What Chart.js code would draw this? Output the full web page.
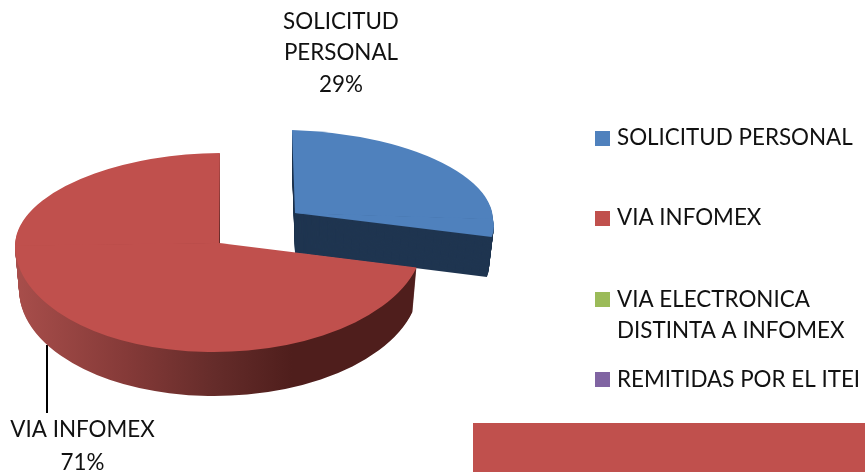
<!DOCTYPE html>
<html>
<head>
<meta charset="utf-8">
<style>
html,body{margin:0;padding:0;background:#fff;overflow:hidden}
canvas{display:block}
</style>
<script src="https://cdn.jsdelivr.net/npm/chart.js@4/dist/chart.umd.min.js"></script>
</head>
<body>
<canvas id="c" width="865" height="472"></canvas>
<script>
const categories = ["SOLICITUD PERSONAL", "VIA INFOMEX", "VIA ELECTRONICA DISTINTA A INFOMEX", "REMITIDAS POR EL ITEI"];
const values = [29, 71, 0, 0];
const colors = ["#4F81BD", "#C0504D", "#9BBB59", "#8064A2"];
const legendLines = [["SOLICITUD PERSONAL"], ["VIA INFOMEX"], ["VIA ELECTRONICA", "DISTINTA A INFOMEX"], ["REMITIDAS POR EL ITEI"]];
const sliceLabels = [["SOLICITUD", "PERSONAL", "29%"], ["VIA INFOMEX", "71%"]];

const FONT = '22.4px Lato, "Open Sans", sans-serif';
const TEXT = '#111111';
const R = 200;

// Projection of each slice (a tilted disc with some perspective)
const projection = [
  {ax: 295, ay: 213, rx: 198, up: 83, down: 73, kUp: 0.036, kDown: 0.27, m: 0.03, depth: 40, shrink: 0.975},
  {ax: 219, ay: 243, rx: 204, up: 90, down: 109, kUp: -0.01, kDown: 0, m: -0.013, depth: 44, shrink: 0.98}
];

function paintHalf(ctx, arc, p, dy, sx, upper, fill) {
  const cx = arc.x, cy = arc.y;
  const sy = (upper ? p.up : p.down) / R;
  const k = upper ? p.kUp : p.kDown;
  ctx.save();
  ctx.translate(p.ax, p.ay + dy);
  ctx.transform(1, p.m, 0, 1, 0, 0);
  ctx.beginPath();
  if (upper) ctx.rect(-1000, -1000, 2000, 1000.5); else ctx.rect(-1000, 0, 2000, 1000);
  ctx.clip();
  ctx.transform(sx, 0, k * sy, sy, -sx * cx - k * sy * cy, -sy * cy);
  const old = arc.options.backgroundColor;
  arc.options.backgroundColor = fill;
  arc.draw(ctx);
  arc.options.backgroundColor = old;
  ctx.restore();
}

function sideFill(ctx, arc, i, p, sx) {
  if (i === 0) return '#1F3550';
  const toChart = X => arc.x + (X - p.ax) / sx;
  const g = ctx.createLinearGradient(toChart(16), 0, toChart(292), 0);
  g.addColorStop(0, '#A84E4B');
  g.addColorStop(0.4, '#853A38');
  g.addColorStop(0.72, '#652C2A');
  g.addColorStop(1, '#4F1E1C');
  return g;
}

const pie3d = {
  id: 'pie3d',
  beforeDatasetsDraw(chart) {
    const ctx = chart.ctx;
    const arcs = chart.getDatasetMeta(0).data;
    // leader line of the second slice
    ctx.save();
    ctx.strokeStyle = '#000';
    ctx.lineWidth = 2;
    ctx.beginPath();
    ctx.moveTo(47, 345);
    ctx.lineTo(47, 413);
    ctx.stroke();
    ctx.restore();

    projection.forEach((p, i) => {
      const arc = arcs[i];
      const sx0 = p.rx / R;
      for (let d = p.depth; d >= 1; d--) {
        const sx = sx0 * (1 - (1 - p.shrink) * d / p.depth);
        const fill = sideFill(ctx, arc, i, p, sx);
        paintHalf(ctx, arc, p, d, sx, true, fill);
        paintHalf(ctx, arc, p, d, sx, false, fill);
      }
      paintHalf(ctx, arc, p, 0, sx0, true, colors[i]);
      paintHalf(ctx, arc, p, 0, sx0, false, colors[i]);
    });
    return false;
  },
  afterDraw(chart) {
    const ctx = chart.ctx;
    ctx.save();
    // decorative band
    ctx.fillStyle = colors[1];
    ctx.fillRect(473, 423, 392, 49);
    // legend
    const boxY = [131, 211, 292, 372];
    const lineY = [[138], [218], [300, 331], [380]];
    ctx.font = FONT;
    ctx.textBaseline = 'middle';
    ctx.textAlign = 'left';
    legendLines.forEach((lines, i) => {
      ctx.fillStyle = colors[i];
      ctx.fillRect(595, boxY[i], 15, 15);
      ctx.fillStyle = TEXT;
      lines.forEach((t, j) => ctx.fillText(t, 617, lineY[i][j]));
    });
    // slice labels
    ctx.textAlign = 'center';
    const labelX = [341, 82.5];
    const labelY = [[22, 53, 85], [430, 463]];
    sliceLabels.forEach((lines, i) => {
      lines.forEach((t, j) => ctx.fillText(t, labelX[i], labelY[i][j]));
    });
    ctx.restore();
  }
};

new Chart(document.getElementById('c'), {
  type: 'pie',
  data: {
    labels: categories,
    datasets: [{data: values, backgroundColor: colors, borderWidth: 0, radius: R}]
  },
  options: {
    responsive: false,
    animation: false,
    plugins: {legend: {display: false}, tooltip: {enabled: false}}
  },
  plugins: [pie3d]
});
</script>
</body>
</html>
